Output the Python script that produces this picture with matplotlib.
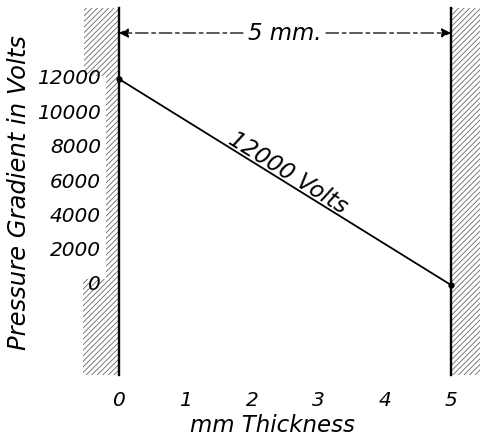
import matplotlib
matplotlib.use("Agg")
import matplotlib.pyplot as plt
from matplotlib.patches import Polygon, Rectangle
import numpy as np

# data
thickness = [0, 5]
voltage = [12000, 0]
x_ticks = [0, 1, 2, 3, 4, 5]
x_tick_labels = ["0", "1", "2", "3", "4", "5"]
y_ticks = [0, 2000, 4000, 6000, 8000, 10000, 12000]
y_tick_labels = ["0", "2000", "4000", "6000", "8000", "10000", "12000"]

W, H = 483, 442
fig = plt.figure(figsize=(W / 100, H / 100), dpi=100)
ax = fig.add_axes([0, 0, 1, 1])
ax.set_axis_off()

# pixel -> data mapping
x0px, x5px = 119, 451
ppx = (x5px - x0px) / 5.0
y0px, y12px = 285, 79
ppy = (y0px - y12px) / 12000.0
ax.set_xlim((0 - x0px) / ppx, (W - x0px) / ppx)
ax.set_ylim((y0px - H) / ppy, (y0px - 0) / ppy)

def X(px):
    return (px - x0px) / ppx

def Y(py):
    return (y0px - py) / ppy

plt.rcParams['hatch.linewidth'] = 0.6
font = dict(family="DejaVu Sans", style="italic")

# hatched walls
left = Polygon([(X(84), Y(8)), (X(119), Y(8)), (X(119), Y(375)), (X(83), Y(375)),
                (X(83), Y(279)), (X(106), Y(279)), (X(106), Y(76)), (X(84), Y(76))],
               closed=True, facecolor="white", edgecolor="#666666", hatch="//////", linewidth=0)
ax.add_patch(left)
right = Rectangle((X(451), Y(375)), X(480) - X(451), Y(8) - Y(375),
                  facecolor="white", edgecolor="#666666", hatch="//////", linewidth=0)
ax.add_patch(right)

# wall lines
ax.plot([X(119), X(119)], [Y(8), Y(375)], color="black", lw=1.7)
ax.plot([X(451), X(451)], [Y(8), Y(375)], color="black", lw=1.7)

# voltage line
ax.plot(thickness, voltage, color="black", lw=1.3, marker="o", markersize=3.5)

# dimension arrow
ya = Y(33)
ax.annotate("", xy=(0, ya), xytext=(X(243), ya),
            arrowprops=dict(arrowstyle="-|>", color="black", lw=0.9, linestyle=(0, (10, 3, 3, 3)),
                            mutation_scale=14, shrinkA=0, shrinkB=0))
ax.annotate("", xy=(5, ya), xytext=(X(326), ya),
            arrowprops=dict(arrowstyle="-|>", color="black", lw=0.9, linestyle=(0, (10, 3, 3, 3)),
                            mutation_scale=14, shrinkA=0, shrinkB=0))
ax.text(X(285), ya, "5 mm.", ha="center", va="center", fontsize=16.5, **font)

# line label
theta = np.arctan2(y0px - y12px, x5px - x0px)
xc_px = 283
yc_px = y0px - (y0px - y12px) * (1 - (xc_px - x0px) / (x5px - x0px))
off = 3.0
ax.text(X(xc_px + off * np.sin(theta)), Y(yc_px - off * np.cos(theta)), "12000 Volts",
        ha="center", va="baseline", fontsize=16.5,
        rotation=-np.degrees(theta), rotation_mode="anchor", **font)

# tick labels
for v, lab in zip(y_ticks, y_tick_labels):
    ax.text(X(101), v, lab, ha="right", va="center", fontsize=14.5, **font)
for xv, lab in zip(x_ticks, x_tick_labels):
    ax.text(xv, Y(401), lab, ha="center", va="center", fontsize=14.5, **font)

ax.text(X(272), Y(425), "mm Thickness", ha="center", va="center", fontsize=16.5, **font)
ax.text(X(19), Y(193), "Pressure Gradient in Volts", ha="center", va="center",
        rotation=90, fontsize=17.5, **font)

fig.savefig("out.png", dpi=100)
